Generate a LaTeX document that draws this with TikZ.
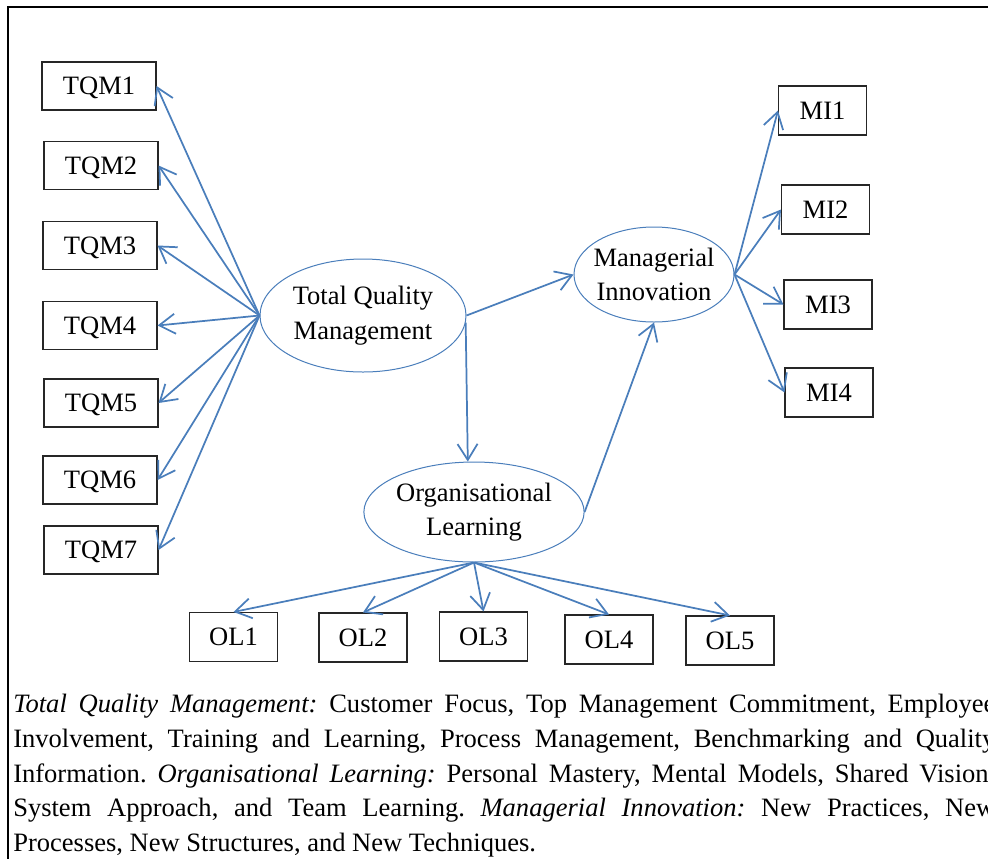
\documentclass[tikz,border=0pt]{standalone}
\usepackage{fontspec}
\setmainfont{Liberation Serif}
\usetikzlibrary{shapes.geometric, arrows.meta, positioning}

\definecolor{linkblue}{RGB}{74,126,187}
\frenchspacing

\begin{document}
\begin{tikzpicture}[
                x=0.75pt, y=-0.75pt,
                >={Straight Barb[length=12pt, width=15pt]},
                box/.style={rectangle, draw=black!85, line width=0.8pt, minimum width=85.5pt, minimum height=36pt, inner sep=0pt, text depth=0pt, font=\fontsize{19.9}{25.8}\selectfont},
                smallbox/.style={box, minimum width=66pt, minimum height=36.75pt},
                construct/.style={ellipse, draw=linkblue, line width=0.75pt, inner sep=0pt, align=center, font=\fontsize{19.9}{25.8}\selectfont},
                link/.style={->, draw=linkblue, line width=1.3pt}
            ]
                \useasboundingbox (0,0) rectangle (988,858);
                \clip (0,0) rectangle (988,858);
                \draw[line width=1.5pt] (8,7) rectangle (1100,1000);

                \node[box] (tqm1) at (99,86) {TQM1};
                \node[box] (tqm2) at (101,165.5) {TQM2};
                \node[box] (tqm3) at (100,245.5) {TQM3};
                \node[box] (tqm4) at (100,325.5) {TQM4};
                \node[box] (tqm5) at (101,403) {TQM5};
                \node[box] (tqm6) at (100,480) {TQM6};
                \node[box] (tqm7) at (101,550) {TQM7};
                \node[smallbox] (mi1) at (822.5,110.5) {MI1};
                \node[smallbox] (mi2) at (825.5,209.5) {MI2};
                \node[smallbox] (mi3) at (828,304.5) {MI3};
                \node[smallbox] (mi4) at (829,392.5) {MI4};
                \node[smallbox] (ol1) at (233.5,637) {OL1};
                \node[smallbox] (ol2) at (363,637.5) {OL2};
                \node[smallbox] (ol3) at (483.5,636.5) {OL3};
                \node[smallbox] (ol4) at (609,639.5) {OL4};
                \node[smallbox] (ol5) at (730,640.5) {OL5};
                \node[construct, minimum width=154.5pt, minimum height=84.75pt] (tqm) at (363,315.5) {Total Quality\\Management};
                \node[construct, minimum width=120pt, minimum height=71.25pt, inner xsep=-4pt] (mi) at (654,274.5) {Managerial\\Innovation};
                \node[construct, minimum width=163.5pt, minimum height=75pt] (ol) at (474,512) {Organisational\\Learning};

                \node[anchor=north west, inner sep=0pt, text width=736.5pt, align=justify, font=\fontsize{19.9}{26}\selectfont] (notes) at (13,694)
                    {\textit{Total Quality Management:} Customer Focus, Top Management Commitment, Employee\linebreak
                     Involvement, Training and Learning, Process Management, Benchmarking and Quality\linebreak
                     Information. \textit{Organisational Learning:} Personal Mastery, Mental Models, Shared Vision,\linebreak
                     System Approach, and Team Learning. \textit{Managerial Innovation:} New Practices, New\linebreak
                     Processes, New Structures, and New Techniques.};

                \draw[link] (tqm.west) -- (tqm1.east);
                \draw[link] (tqm.west) -- (tqm2.east);
                \draw[link] (tqm.west) -- (tqm3.east);
                \draw[link] (tqm.west) -- (tqm4.east);
                \draw[link] (tqm.west) -- (tqm5.east);
                \draw[link] (tqm.west) -- (tqm6.east);
                \draw[link] (tqm.west) -- (tqm7.east);
                \draw[link] (tqm.east) -- (mi.west);
                \draw[link] (tqm.-4) -- (ol.97);
                \draw[link] (ol.east) -- (mi.south);
                \draw[link] (mi.east) -- (mi1.west);
                \draw[link] (mi.east) -- (mi2.west);
                \draw[link] (mi.east) -- (mi3.west);
                \draw[link] (mi.east) -- (mi4.west);
                \draw[link] (ol.south) -- (ol1.north);
                \draw[link] (ol.south) -- (ol2.north);
                \draw[link] (ol.south) -- (ol3.north);
                \draw[link] (ol.south) -- (ol4.north);
                \draw[link] (ol.south) -- (ol5.north);
            \end{tikzpicture}
\end{document}
